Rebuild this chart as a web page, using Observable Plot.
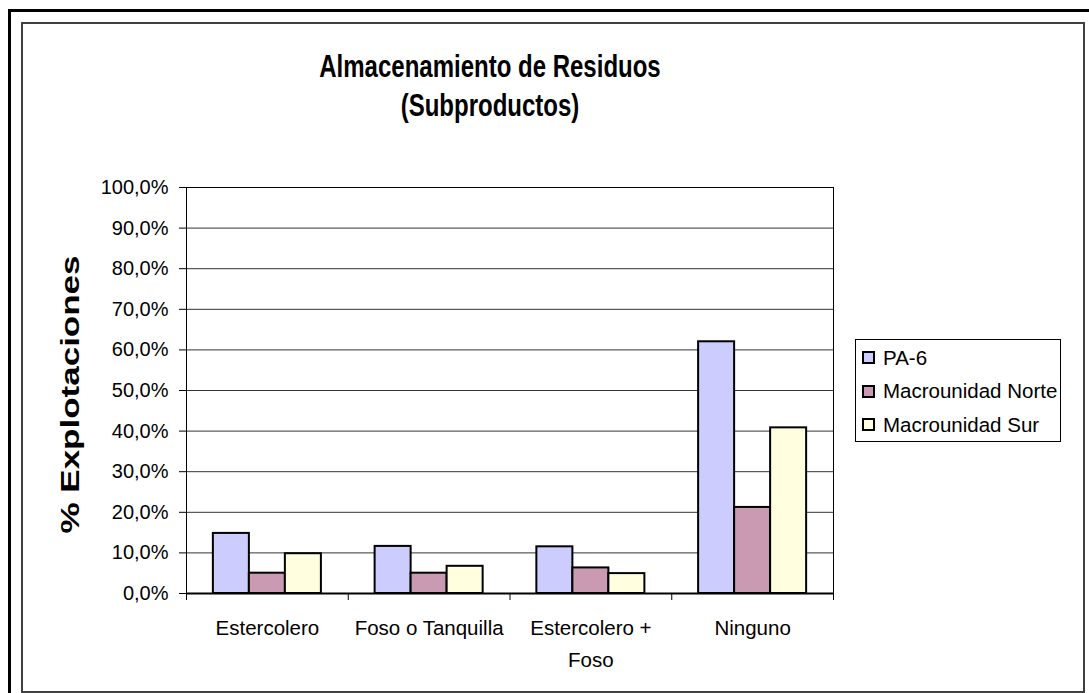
<!DOCTYPE html>
<html>
<head>
<meta charset="utf-8">
<script src="https://cdn.jsdelivr.net/npm/d3@7"></script>
<script src="https://cdn.jsdelivr.net/npm/@observablehq/plot@0.6"></script>
<style>
html,body{margin:0;padding:0;background:#fff;}
body{width:1089px;height:693px;position:relative;overflow:hidden;font-family:"Liberation Sans",Arial,sans-serif;color:#000;}
#outer{position:absolute;left:8px;top:9px;width:1200px;height:800px;border-left:3px solid #000;border-top:3px solid #000;}
#inner{position:absolute;left:21px;top:22px;width:1060px;height:667px;border:2px solid #404040;}
.title{position:absolute;left:290px;width:400px;text-align:center;font-weight:bold;font-size:24px;line-height:24px;transform:scaleY(1.27);white-space:nowrap;}
#chart{position:absolute;left:0;top:170px;}
#legend{position:absolute;left:855px;top:339px;width:206px;height:103px;border:1px solid #000;box-sizing:border-box;background:#fff;padding-top:1px;}
.row{height:33.5px;display:flex;align-items:center;font-size:20.5px;white-space:nowrap;}
.sw{width:13px;height:13px;box-sizing:border-box;border:2px solid #000;margin-left:6px;margin-right:8px;flex:none;}
</style>
</head>
<body>
<div id="outer"></div>
<div id="inner"></div>
<div class="title" id="t1" style="top:55px"></div>
<div class="title" id="t2" style="top:94px"></div>
<div id="chart"></div>
<div id="legend"></div>
<script>
// ---- data ----
const titleLines = ["Almacenamiento de Residuos", "(Subproductos)"];
const yLabel = "% Explotaciones";
const categories = ["Estercolero", "Foso o Tanquilla", "Estercolero +\nFoso", "Ninguno"];
const series = ["PA-6", "Macrounidad Norte", "Macrounidad Sur"];
const pa6   = [14.8, 11.6, 11.5, 62.0];
const norte = [5.0, 5.0, 6.3, 21.2];
const sur   = [9.8, 6.7, 4.9, 40.8];
const yTicks = [0, 10, 20, 30, 40, 50, 60, 70, 80, 90, 100];
const colors = ["#ccccff", "#c99ab2", "#ffffe0"];

// ---- build table ----
const seriesValues = [pa6, norte, sur];
const rows = [];
categories.forEach((c, i) => {
  series.forEach((s, j) => rows.push({cat: i, j, series: s, value: seriesValues[j][i]}));
});
const barW = 0.2226;               // fraction of category slot per bar
const off = (1 - 3 * barW) / 2;    // half gap on each side of group

document.getElementById("t1").textContent = titleLines[0];
document.getElementById("t2").textContent = titleLines[1];

const fmt = d => d.toFixed(1).replace(".", ",") + "%";

const chart = Plot.plot({
  width: 850,
  height: 523,
  marginLeft: 186,
  marginRight: 17,
  marginTop: 17,
  marginBottom: 100,
  style: {fontFamily: "'Liberation Sans', Arial, sans-serif", fontSize: "20px", color: "#000", background: "transparent", overflow: "visible"},
  x: {type: "linear", domain: [0, categories.length], axis: null},
  y: {domain: [0, 100], axis: null},
  color: {domain: series, range: colors},
  marks: [
    Plot.ruleY(yTicks, {stroke: "#333", strokeWidth: 1}),
    Plot.rect(rows, {
      x1: d => d.cat + off + d.j * barW,
      x2: d => d.cat + off + (d.j + 1) * barW,
      y1: 0, y2: "value",
      fill: "series", stroke: "#000", strokeWidth: 2
    }),
    Plot.frame({stroke: "#000", strokeWidth: 1}),
    Plot.ruleY([0], {stroke: "#000", strokeWidth: 2}),
    Plot.axisY({ticks: yTicks, tickFormat: fmt, tickSize: 7, tickPadding: 11, fontSize: 20, label: null, stroke: "#000"}),
    Plot.axisX({ticks: d3.range(categories.length + 1), tickFormat: () => "", tickSize: 7, label: null, stroke: "#000"}),
    Plot.axisX({ticks: categories.map((c, i) => i + 0.5), tickFormat: d => categories[Math.floor(d)], tickSize: 0, tickPadding: 19, fontSize: 20.5, lineHeight: 1.56, label: null}),
    Plot.text([yLabel], {frameAnchor: "left", textAnchor: "middle", dx: -116, dy: 4, rotate: -90, fontSize: 25, fontWeight: "bold"})
  ]
});
document.getElementById("chart").appendChild(chart);
chart.querySelectorAll("text").forEach(t => {
  if (t.textContent === yLabel) {
    t.setAttribute("textLength", 278);
    t.setAttribute("lengthAdjust", "spacingAndGlyphs");
  }
});

// legend
const leg = document.getElementById("legend");
series.forEach((s, j) => {
  const r = document.createElement("div"); r.className = "row";
  const sw = document.createElement("span"); sw.className = "sw"; sw.style.background = colors[j];
  const t = document.createElement("span"); t.textContent = s;
  r.appendChild(sw); r.appendChild(t); leg.appendChild(r);
});
</script>
</body>
</html>
